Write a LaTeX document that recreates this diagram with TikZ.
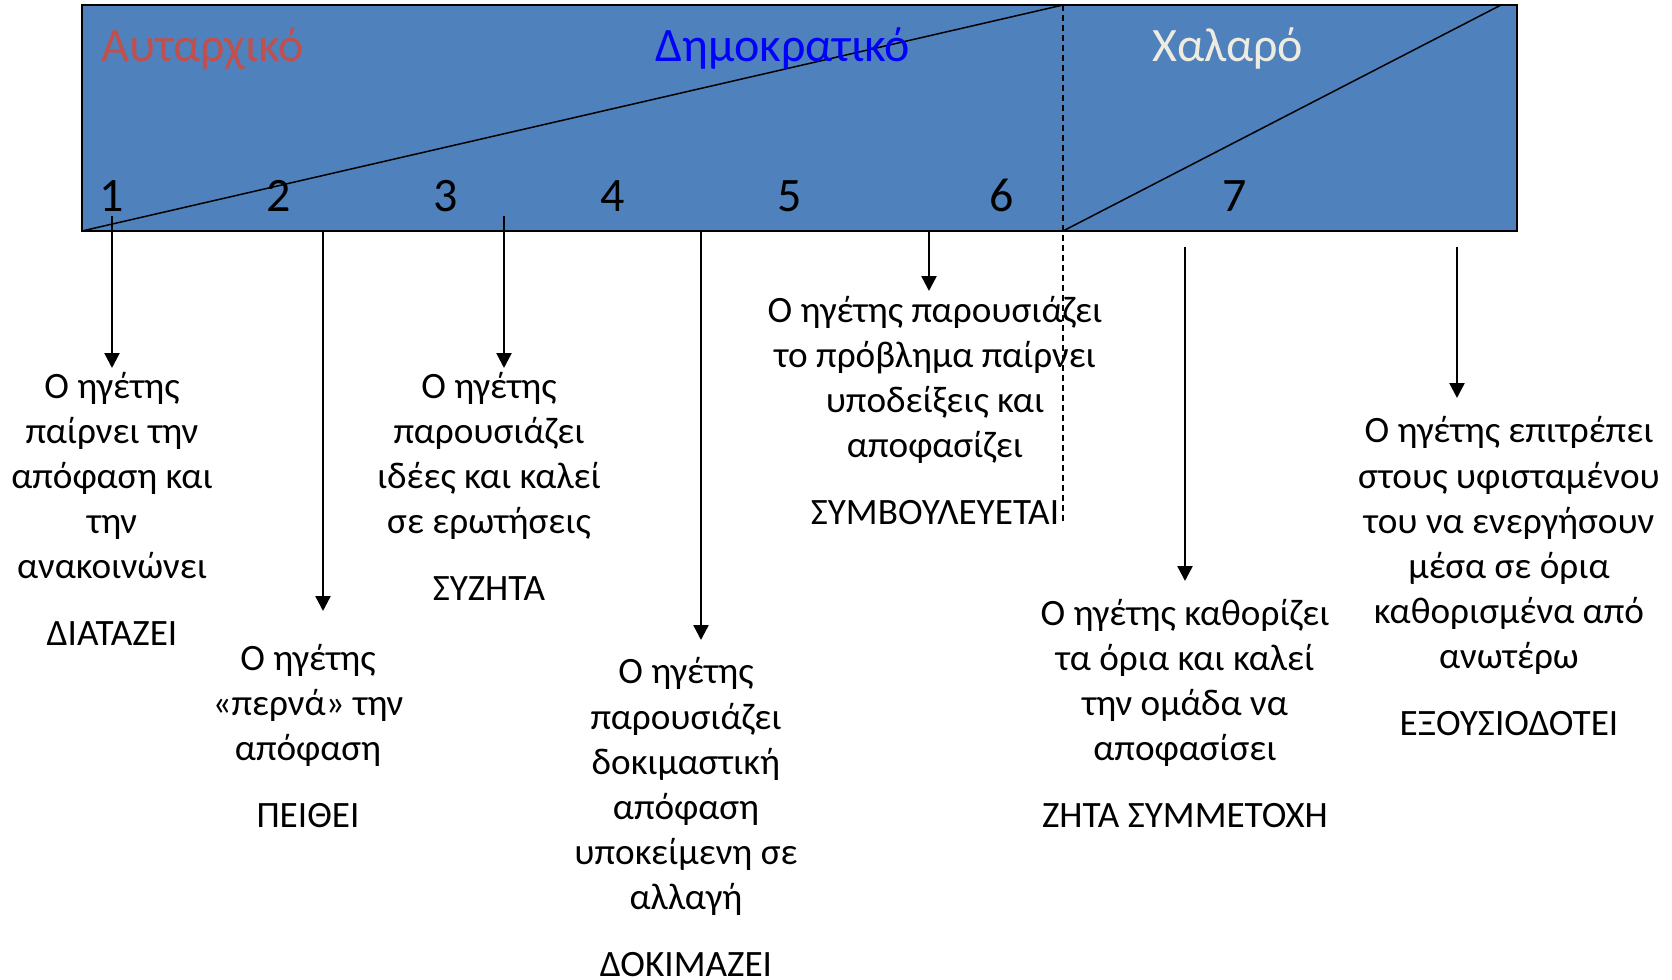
\documentclass[tikz,border=0pt]{standalone}
\usepackage{fontspec}
\setmainfont{Carlito}
\usetikzlibrary{arrows.meta}
\definecolor{panelblue}{HTML}{4F81BD}
\definecolor{autored}{HTML}{C0504D}
\definecolor{demblue}{HTML}{0000FF}
\definecolor{laxwhite}{HTML}{EEECE1}

\begin{document}
\begin{tikzpicture}[x=0.5pt,y=-0.5pt,
  panel/.style={draw=black, line width=1pt, fill=panelblue, inner sep=0pt, outer sep=0pt,
    minimum width=717.5pt, minimum height=113pt},
  % anchor=base of a multi-line node sits on its last line (the verb in capitals)
  desc/.style={align=center, anchor=base, inner sep=0pt, font=\fontsize{18.6}{22.6}\selectfont},
  stylelabel/.style={anchor=base west, inner sep=0pt, font=\fontsize{24}{29}\selectfont},
  scalenum/.style={anchor=base, inner sep=0pt, font=\fontsize{24}{29}\selectfont},
  pointer/.style={line width=1.2pt, -{Triangle[length=7.5pt,width=7.5pt]}},
  divider/.style={line width=0.75pt},
  boundary/.style={line width=0.6pt, dash pattern=on 3pt off 2pt},
]
\useasboundingbox (0,0) rectangle (1672,980);

% the scale panel
\node[panel] (panel) at (799.5,118) {};
\coordinate (splittop) at (1063,5);
\coordinate (splitbot) at (1063,231);
\coordinate (laxtop) at (1501,5);
\coordinate (dashend) at (1063,522);

\draw[divider] (panel.south west) -- (splittop);
\draw[divider] (splitbot) -- (laxtop);
\draw[boundary] (splittop) -- (dashend);

% style headings
\node[stylelabel, text=autored] (autocratic) at (101,61) {Αυταρχικό};
\node[stylelabel, text=demblue] (democratic) at (655,61) {Δημοκρατικό};
\node[stylelabel, text=laxwhite] (laissez) at (1152,61) {Χαλαρό};

% scale positions
\node[scalenum] (n1) at (112,211) {1};
\node[scalenum] (n2) at (279,211) {2};
\node[scalenum] (n3) at (446,211) {3};
\node[scalenum] (n4) at (613,211) {4};
\node[scalenum] (n5) at (790,211) {5};
\node[scalenum] (n6) at (1002,211) {6};
\node[scalenum] (n7) at (1235,211) {7};

% descriptions
\node[desc] (d1) at (112,645) {Ο ηγέτης\\παίρνει την\\απόφαση και\\την\\ανακοινώνει\\[10.5pt]ΔΙΑΤΑΖΕΙ};
\node[desc] (d2) at (308,827) {Ο ηγέτης\\«περνά» την\\απόφαση\\[10.5pt]ΠΕΙΘΕΙ};
\node[desc] (d3) at (489,600) {Ο ηγέτης\\παρουσιάζει\\ιδέες και καλεί\\σε ερωτήσεις\\[10.5pt]ΣΥΖΗΤΑ};
\node[desc] (d4) at (686,976) {Ο ηγέτης\\παρουσιάζει\\δοκιμαστική\\απόφαση\\υποκείμενη σε\\αλλαγή\\[10.5pt]ΔΟΚΙΜΑΖΕΙ};
\node[desc] (d5) at (935,524) {Ο ηγέτης παρουσιάζει\\το πρόβλημα παίρνει\\υποδείξεις και\\αποφασίζει\\[10.5pt]ΣΥΜΒΟΥΛΕΥΕΤΑΙ};
\node[desc] (d6) at (1185,827) {Ο ηγέτης καθορίζει\\τα όρια και καλεί\\την ομάδα να\\αποφασίσει\\[10.5pt]ΖΗΤΑ ΣΥΜΜΕΤΟΧΗ};
\node[desc] (d7) at (1509,735) {Ο ηγέτης επιτρέπει\\στους υφισταμένου\\του να ενεργήσουν\\μέσα σε όρια\\καθορισμένα από\\ανωτέρω\\[10.5pt]ΕΞΟΥΣΙΟΔΟΤΕΙ};

% pointer ends
\coordinate (s1) at (112,216);  \coordinate (t1) at (112,368);
\coordinate (s2) at (323,231);  \coordinate (t2) at (323,611);
\coordinate (s3) at (504,216);  \coordinate (t3) at (504,368);
\coordinate (s4) at (701,231);  \coordinate (t4) at (701,640);
\coordinate (s5) at (929,231);  \coordinate (t5) at (929,291);
\coordinate (s6) at (1185,247); \coordinate (t6) at (1185,581);
\coordinate (s7) at (1457,247); \coordinate (t7) at (1457,398);

\foreach \i in {1,...,7} \draw[pointer] (s\i) -- (t\i);
\end{tikzpicture}
\end{document}
